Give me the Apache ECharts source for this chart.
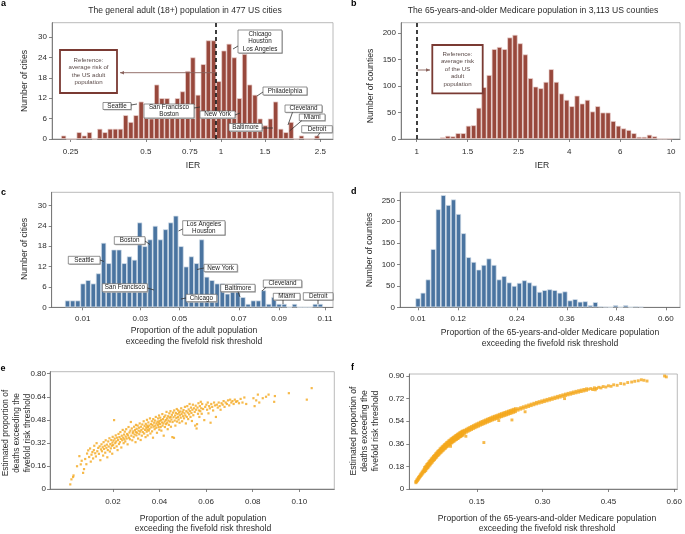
<!DOCTYPE html>
<html><head><meta charset="utf-8">
<script src="https://cdn.jsdelivr.net/npm/echarts@6/dist/echarts.min.js"></script>
<style>html,body{margin:0;padding:0;background:#fff}#c{width:685px;height:534px}</style>
</head><body><div id="c"></div>
<script>
// ---------------- DATA ----------------
// Panel a: IER histogram, 477 US cities (log-spaced bins)
const aCounts = [1,0,0,2,1,2,0,3,2,3, 3,3,7,5,7,11,9,6,16,12, 12,10,12,14,20,24,13,22,29,29, 17,26,28,24,12,25,16,13,6,4, 6,11,3,2,5,0,1,0,0,1];
const aBinStartLog10 = -0.630, aBinWidthLog10 = 0.0207;
const aTickValues = [0.25,0.5,0.75,1,1.5,2.5];
const aTickLabels = ['0.25','0.5','0.75','1','1.5','2.5'];
const aReferenceIER = 0.965;
const aYTicks = [0,6,12,18,24,30];

// Panel b: IER histogram, 3,113 US counties (log-spaced bins)
const bCounts = [3,6,5,11,11,25,26,59,98,121, 170,174,170,192,197,181,160,115,99,96, 108,132,108,86,74,62,82,67,74,52, 62,50,50,34,25,20,17,11,4,4, 8,5,0,0,1];
const bBinStartLog10 = 0.1018, bBinWidthLog10 = 0.02033;
const bTickLog10 = [0,0.2,0.4,0.6,0.8,1.0];
const bTickLabels = ['1','1.5','2.5','4','6','10'];
const bReferenceIER = 1;
const bYTicks = [0,50,100,150,200];

// Panel c: proportion exceeding fivefold threshold, cities (bin index axis)
const cCounts = [2,2,2,7,8,7,10,19,13,17, 17,13,15,14,25,18,20,24,20,23, 25,27,18,12,15,13,20,9,8,7, 7,4,5,7,3,1,2,2,5,1, 3,1,1,0,1,0,0,0,1,1];
const cTickBins = [2.95,14.1,21.7,33.2,41.0,49.9];
const cTickLabels = ['0.01','0.03','0.05','0.07','0.09','0.11'];
const cYTicks = [0,6,12,18,24,30];

// Panel d: proportion exceeding fivefold threshold, counties (bin index axis)
const dCounts = [21,34,65,136,229,262,239,252,218,173, 117,106,88,99,114,99,65,73,58,50, 57,63,58,51,36,40,42,40,34,37, 16,19,13,14,5,12,2,1,0,5, 0,5,0,2,1];
const dTickBins = [0,7.95,19.5,29.4,39.2,48.9];
const dTickLabels = ['0.01','0.12','0.24','0.36','0.48','0.60'];
const dYTicks = [0,50,100,150,200,250];

// Panel e: cities scatter [proportion of adults, proportion of deaths]
const ePoints = [
[0.0017,0.032],[0.0022,0.067],[0.0029,0.083],[0.0031,0.094],[0.0046,0.158],
[0.0056,0.228],[0.0062,0.171],[0.0066,0.196],[0.0072,0.112],[0.0076,0.138],[0.0081,0.208],[0.0086,0.172],[0.0089,0.246],[0.0094,0.268],[0.0098,0.222],
[0.0102,0.281],[0.0105,0.19],[0.0108,0.238],[0.0112,0.256],[0.0115,0.212],[0.0118,0.27],[0.012,0.3],[0.0124,0.248],[0.0127,0.226],[0.013,0.318],[0.0133,0.262],[0.0137,0.285],[0.014,0.244],[0.0143,0.296],[0.0146,0.2],[0.0149,0.275],
[0.0151,0.31],[0.0153,0.262],[0.0156,0.29],[0.0158,0.232],[0.016,0.325],[0.0162,0.278],[0.0165,0.3],[0.0167,0.252],[0.0169,0.338],[0.0172,0.286],[0.0174,0.308],[0.0176,0.22],[0.0178,0.27],[0.018,0.33],[0.0182,0.295],[0.0185,0.352],[0.0187,0.26],[0.0189,0.312],[0.0191,0.282],[0.0193,0.34],[0.0195,0.3],[0.0197,0.245],[0.0198,0.322],[0.0199,0.362],
[0.0201,0.305],[0.0203,0.336],[0.0205,0.478],[0.0206,0.285],[0.0208,0.35],[0.021,0.318],[0.0212,0.372],[0.0214,0.33],[0.0216,0.296],[0.0218,0.356],[0.022,0.27],[0.0222,0.34],[0.0224,0.382],[0.0226,0.312],[0.0228,0.36],[0.023,0.325],[0.0232,0.395],[0.0234,0.348],[0.0236,0.288],[0.0238,0.37],[0.024,0.338],[0.0242,0.41],[0.0244,0.356],[0.0246,0.318],[0.0248,0.378],[0.0249,0.345],
[0.0251,0.398],[0.0253,0.33],[0.0255,0.364],[0.0257,0.415],[0.0259,0.35],[0.0261,0.382],[0.0263,0.31],[0.0265,0.372],[0.0267,0.43],[0.0269,0.356],[0.0271,0.392],[0.0273,0.345],[0.0275,0.405],[0.0277,0.465],[0.0279,0.37],[0.0281,0.42],[0.0283,0.338],[0.0285,0.388],[0.0287,0.4],[0.0289,0.36],[0.0291,0.432],[0.0293,0.378],[0.0295,0.41],[0.0297,0.325],[0.0298,0.395],[0.0299,0.445],
[0.0301,0.372],[0.0302,0.418],[0.0304,0.39],[0.0306,0.44],[0.0308,0.35],[0.031,0.405],[0.0312,0.425],[0.0313,0.38],[0.0315,0.455],[0.0317,0.398],[0.0319,0.34],[0.032,0.432],[0.0322,0.41],[0.0324,0.37],[0.0326,0.448],[0.0328,0.395],[0.033,0.42],[0.0332,0.47],[0.0334,0.385],[0.0336,0.438],[0.0338,0.41],[0.034,0.36],[0.0341,0.452],[0.0343,0.425],[0.0345,0.398],[0.0346,0.48],[0.0347,0.44],[0.0348,0.412],[0.0349,0.372],[0.035,0.43],
[0.0352,0.462],[0.0354,0.405],[0.0356,0.44],[0.0357,0.418],[0.0359,0.49],[0.0361,0.385],[0.0363,0.45],[0.0365,0.428],[0.0367,0.47],[0.0368,0.4],[0.037,0.445],[0.0372,0.356],[0.0373,0.485],[0.0375,0.432],[0.0377,0.46],[0.0379,0.415],[0.038,0.475],[0.0382,0.44],[0.0384,0.5],[0.0386,0.425],[0.0387,0.455],[0.0389,0.39],[0.0391,0.468],[0.0393,0.445],[0.0394,0.49],[0.0396,0.43],[0.0397,0.46],[0.0398,0.51],[0.0399,0.412],[0.04,0.472],
[0.0402,0.45],[0.0403,0.495],[0.0405,0.43],[0.0407,0.478],[0.0408,0.405],[0.041,0.462],[0.0412,0.52],[0.0413,0.44],[0.0415,0.485],[0.0417,0.455],[0.0418,0.37],[0.042,0.5],[0.0422,0.468],[0.0423,0.43],[0.0425,0.51],[0.0427,0.478],[0.0428,0.45],[0.043,0.535],[0.0432,0.49],[0.0433,0.46],[0.0435,0.415],[0.0437,0.505],[0.0438,0.475],[0.044,0.445],[0.0442,0.525],[0.0443,0.495],[0.0445,0.468],[0.0447,0.54],[0.0448,0.5],[0.0449,0.432],
[0.0451,0.482],[0.0453,0.515],[0.0455,0.36],[0.0456,0.465],[0.0458,0.53],[0.046,0.498],[0.0462,0.355],[0.0463,0.545],[0.0465,0.475],[0.0467,0.51],[0.0468,0.44],[0.047,0.528],[0.0472,0.492],[0.0474,0.555],[0.0475,0.468],[0.0477,0.52],[0.0479,0.5],[0.048,0.545],[0.0482,0.482],[0.0484,0.53],[0.0486,0.46],[0.0487,0.512],[0.0489,0.538],[0.0491,0.495],[0.0493,0.56],[0.0495,0.52],[0.0497,0.47],[0.0499,0.535],
[0.0501,0.505],[0.0503,0.548],[0.0505,0.49],[0.0507,0.525],[0.0509,0.57],[0.0511,0.51],[0.0513,0.455],[0.0515,0.54],[0.0517,0.5],[0.0519,0.575],[0.0521,0.53],[0.0523,0.485],[0.0525,0.552],[0.0527,0.518],[0.0529,0.59],[0.0531,0.54],[0.0533,0.5],[0.0535,0.565],[0.0537,0.528],[0.0539,0.472],[0.0541,0.55],[0.0543,0.585],[0.0545,0.512],[0.0548,0.56],
[0.0551,0.535],[0.0553,0.44],[0.0555,0.578],[0.0557,0.55],[0.0559,0.42],[0.0561,0.45],[0.0563,0.565],[0.0565,0.522],[0.0567,0.595],[0.0569,0.545],[0.0571,0.5],[0.0573,0.575],[0.0575,0.54],[0.0577,0.605],[0.0579,0.56],[0.0581,0.522],[0.0583,0.59],[0.0587,0.555],[0.0592,0.478],[0.0596,0.57],
[0.0601,0.585],[0.0604,0.55],[0.0607,0.6],[0.061,0.525],[0.0613,0.575],[0.0616,0.56],[0.0619,0.46],[0.0622,0.59],[0.0626,0.57],[0.063,0.545],[0.0634,0.6],[0.0638,0.58],[0.0642,0.5],[0.0646,0.585],[0.065,0.565],
[0.0654,0.6],[0.0658,0.575],[0.0662,0.55],[0.0666,0.595],[0.0671,0.585],[0.0675,0.61],[0.0679,0.57],[0.0684,0.6],[0.0689,0.59],[0.0694,0.615],[0.0699,0.58],
[0.0703,0.62],[0.0708,0.6],[0.0713,0.61],[0.0718,0.59],[0.0723,0.62],[0.0728,0.605],[0.0734,0.61],[0.0741,0.595],[0.0748,0.625],[0.0756,0.6],[0.0764,0.635],[0.0772,0.59],
[0.0803,0.63],[0.0808,0.575],[0.0815,0.615],[0.0822,0.655],[0.0828,0.6],[0.0843,0.63],[0.0857,0.64],[0.0868,0.655],[0.0892,0.605],
[0.0895,0.645],[0.0955,0.665],[0.1032,0.62],[0.1053,0.7]
];
const eXTicks = [0.02,0.04,0.06,0.08,0.10];
const eXTickLabels = ['0.02','0.04','0.06','0.08','0.10'];
const eYTicks = [0,0.16,0.32,0.48,0.64,0.80];
const eYTickLabels = ['0','0.16','0.32','0.48','0.64','0.80'];

// Panel f: counties scatter [proportion of 65+ population, proportion of deaths]
const fPoints = [
[0.011,0.06],[0.011,0.05],[0.013,0.072],[0.013,0.058],[0.015,0.081],[0.015,0.068],[0.017,0.093],[0.017,0.078],[0.019,0.101],[0.019,0.088],
[0.021,0.113],[0.021,0.098],[0.023,0.122],[0.023,0.107],[0.025,0.134],[0.025,0.117],[0.027,0.143],[0.027,0.126],[0.029,0.153],[0.029,0.137],
[0.031,0.172],[0.031,0.16],[0.031,0.149],[0.031,0.138],[0.0335,0.181],[0.0335,0.171],[0.0335,0.16],[0.0335,0.147],
[0.036,0.195],[0.036,0.183],[0.036,0.172],[0.036,0.161],[0.0385,0.204],[0.0385,0.194],[0.0385,0.181],[0.0385,0.17],
[0.041,0.217],[0.041,0.205],[0.041,0.194],[0.041,0.183],[0.0435,0.226],[0.0435,0.216],[0.0435,0.203],[0.0435,0.192],
[0.046,0.239],[0.046,0.227],[0.046,0.216],[0.046,0.205],[0.0485,0.248],[0.0485,0.238],[0.0485,0.225],[0.0485,0.214],
[0.051,0.26],[0.051,0.248],[0.051,0.237],[0.051,0.226],[0.0535,0.268],[0.0535,0.258],[0.0535,0.245],[0.0535,0.234],
[0.056,0.28],[0.056,0.268],[0.056,0.257],[0.056,0.246],[0.0585,0.288],[0.0585,0.278],[0.0585,0.265],[0.0585,0.254],
[0.061,0.3],[0.061,0.288],[0.061,0.277],[0.061,0.266],[0.0635,0.307],[0.0635,0.297],[0.0635,0.284],[0.0635,0.273],
[0.066,0.319],[0.066,0.307],[0.066,0.296],[0.066,0.285],[0.0685,0.326],[0.0685,0.316],[0.0685,0.303],[0.0685,0.292],
[0.071,0.336],[0.071,0.324],[0.071,0.313],[0.071,0.302],[0.0735,0.343],[0.0735,0.333],[0.0735,0.32],[0.0735,0.309],
[0.076,0.353],[0.076,0.341],[0.076,0.33],[0.076,0.319],[0.0785,0.359],[0.0785,0.349],[0.0785,0.336],[0.0785,0.325],
[0.081,0.369],[0.081,0.357],[0.081,0.346],[0.081,0.335],[0.0835,0.374],[0.0835,0.364],[0.0835,0.351],[0.0835,0.34],
[0.086,0.384],[0.086,0.372],[0.086,0.361],[0.086,0.35],[0.0885,0.389],[0.0885,0.379],[0.0885,0.366],[0.0885,0.355],
[0.091,0.398],[0.091,0.386],[0.091,0.375],[0.091,0.364],[0.0935,0.403],[0.0935,0.393],[0.0935,0.38],[0.0935,0.369],
[0.096,0.411],[0.096,0.399],[0.096,0.388],[0.096,0.377],[0.0985,0.416],[0.0985,0.406],[0.0985,0.393],[0.0985,0.382],
[0.101,0.424],[0.101,0.412],[0.101,0.401],[0.101,0.39],[0.1035,0.428],[0.1035,0.418],[0.1035,0.405],[0.1035,0.394],
[0.106,0.436],[0.106,0.424],[0.106,0.413],[0.106,0.402],[0.1085,0.44],[0.1085,0.43],[0.1085,0.417],[0.1085,0.406],
[0.111,0.448],[0.111,0.436],[0.111,0.425],[0.111,0.414],[0.1135,0.452],[0.1135,0.442],[0.1135,0.429],[0.1135,0.418],
[0.116,0.459],[0.116,0.447],[0.116,0.436],[0.116,0.425],[0.1185,0.463],[0.1185,0.453],[0.1185,0.44],[0.1185,0.429],
[0.122,0.468],[0.122,0.456],[0.122,0.444],[0.126,0.476],[0.126,0.464],[0.126,0.452],[0.13,0.484],[0.13,0.472],[0.13,0.46],
[0.134,0.491],[0.134,0.479],[0.134,0.467],[0.138,0.498],[0.138,0.486],[0.138,0.474],[0.142,0.505],[0.142,0.493],[0.142,0.481],
[0.146,0.512],[0.146,0.5],[0.146,0.488],[0.15,0.519],[0.15,0.507],[0.15,0.495],[0.154,0.525],[0.154,0.513],[0.154,0.501],
[0.158,0.532],[0.158,0.52],[0.158,0.508],[0.162,0.538],[0.162,0.526],[0.162,0.514],[0.166,0.544],[0.166,0.532],[0.166,0.52],
[0.17,0.55],[0.17,0.538],[0.17,0.526],[0.174,0.556],[0.174,0.544],[0.174,0.532],[0.178,0.562],[0.178,0.55],[0.178,0.538],
[0.182,0.568],[0.182,0.556],[0.182,0.544],[0.186,0.574],[0.186,0.562],[0.186,0.55],[0.19,0.579],[0.19,0.567],[0.19,0.555],
[0.194,0.584],[0.194,0.572],[0.194,0.56],[0.198,0.589],[0.198,0.577],[0.198,0.565],[0.202,0.595],[0.202,0.583],[0.202,0.571],
[0.206,0.6],[0.206,0.588],[0.206,0.576],[0.21,0.605],[0.21,0.593],[0.21,0.581],[0.214,0.61],[0.214,0.598],[0.214,0.586],
[0.218,0.615],[0.218,0.603],[0.218,0.591],[0.222,0.62],[0.222,0.608],[0.222,0.596],[0.226,0.625],[0.226,0.613],[0.226,0.601],
[0.23,0.63],[0.23,0.618],[0.23,0.606],[0.234,0.635],[0.234,0.623],[0.234,0.611],[0.238,0.64],[0.238,0.628],[0.238,0.616],
[0.244,0.64],[0.244,0.628],[0.25,0.648],[0.25,0.636],[0.256,0.655],[0.256,0.643],[0.262,0.662],[0.262,0.65],[0.268,0.669],[0.268,0.657],
[0.274,0.676],[0.274,0.664],[0.28,0.683],[0.28,0.671],[0.286,0.69],[0.286,0.678],[0.292,0.696],[0.292,0.684],[0.298,0.702],[0.298,0.69],
[0.304,0.708],[0.304,0.696],[0.31,0.714],[0.31,0.702],[0.316,0.72],[0.316,0.708],[0.322,0.726],[0.322,0.714],[0.328,0.732],[0.328,0.72],
[0.334,0.738],[0.334,0.726],[0.34,0.744],[0.34,0.732],[0.346,0.75],[0.346,0.738],[0.352,0.756],[0.352,0.744],[0.358,0.762],[0.358,0.75],
[0.364,0.767],[0.364,0.755],[0.37,0.773],[0.37,0.761],[0.376,0.778],[0.376,0.766],[0.382,0.783],[0.382,0.771],[0.388,0.788],[0.388,0.776],
[0.394,0.793],[0.394,0.781],[0.40,0.798],[0.40,0.786],
[0.405,0.795],[0.41,0.8],[0.414,0.792],[0.418,0.806],[0.423,0.801],[0.428,0.81],[0.433,0.805],[0.438,0.816],[0.444,0.812],[0.45,0.822],
[0.456,0.818],[0.462,0.83],[0.47,0.826],[0.478,0.84],[0.486,0.836],[0.494,0.848],[0.503,0.852],[0.51,0.858],[0.518,0.862],[0.525,0.87],
[0.531,0.866],[0.538,0.86],[0.578,0.9],[0.582,0.893],
[0.166,0.37],[0.125,0.42],[0.09,0.34],[0.2,0.545],[0.23,0.55],[0.26,0.615],[0.35,0.72],[0.42,0.79]
];
const fXTicks = [0.15,0.30,0.45,0.60];
const fXTickLabels = ['0.15','0.30','0.45','0.60'];
const fYTicks = [0,0.18,0.36,0.54,0.72,0.90];
const fYTickLabels = ['0','0.18','0.36','0.54','0.72','0.90'];

// ---------------- CHART ----------------
const FONT = '"Liberation Sans", Arial, Helvetica, sans-serif';
const TXT = '#2b2b2b';
const AXC = '#666';
const BROWN = '#98483c', BLUE = '#4a74a0', ORANGE = '#f4a81d';

function lab(vals, labels) {
  return function (v) {
    for (let i = 0; i < vals.length; i++) if (Math.abs(vals[i] - v) < 1e-6) return labels[i];
    return '';
  };
}
function axis(gi, min, max, vals, labels, margin) {
  return {
    type: 'value', gridIndex: gi, min: min, max: max,
    axisLine: { show: true, onZero: false, lineStyle: { color: AXC, width: 0.8 } },
    axisTick: { show: true, length: 3, customValues: vals, lineStyle: { color: AXC, width: 0.8 } },
    axisLabel: { customValues: vals, formatter: lab(vals, labels), fontSize: 8, color: TXT, fontFamily: FONT, margin: margin, hideOverlap: false },
    splitLine: { show: false }
  };
}
function grid(l, t, w, h) {
  return { left: l, top: t, width: w, height: h, show: true, borderColor: '#a8a8a8', borderWidth: 0.8, backgroundColor: 'transparent' };
}
const L10 = v => Math.log10(v);
const aTickLog = aTickValues.map(L10);
const numLabels = a => a.map(String);

const dashed = (x) => ({
  silent: true, symbol: 'none', label: { show: false },
  lineStyle: { color: '#111', type: [4, 3], width: 1.6 },
  data: [{ xAxis: x }]
});

const option = {
  animation: false,
  backgroundColor: '#fff',
  grid: [
    grid(52, 22.7, 281, 116.3),
    grid(401, 22.7, 279, 116.3),
    grid(51.7, 192.3, 281.3, 115),
    grid(400, 192.3, 280, 115),
    grid(50, 371.7, 284.3, 117.3),
    grid(409.3, 374, 270.7, 115)
  ],
  xAxis: [
    axis(0, -0.6766, 0.4484, aTickLog, aTickLabels, 9),
    axis(1, -0.0617, 1.035, bTickLog10, bTickLabels, 9),
    axis(2, -3.06, 51.45, cTickBins, cTickLabels, 7),
    axis(3, -3.55, 51.7, dTickBins, dTickLabels, 7),
    axis(4, -0.007, 0.115, eXTicks, eXTickLabels, 9),
    axis(5, -0.004, 0.607, fXTicks, fXTickLabels, 9)
  ],
  yAxis: [
    axis(0, 0, 34.2, aYTicks, numLabels(aYTicks), 5),
    axis(1, 0, 220, bYTicks, numLabels(bYTicks), 5),
    axis(2, 0, 33.9, cYTicks, numLabels(cYTicks), 5),
    axis(3, 0, 268.7, dYTicks, numLabels(dYTicks), 5),
    axis(4, 0, 0.814, eYTicks, eYTickLabels, 4),
    axis(5, 0, 0.916, fYTicks, fYTickLabels, 5)
  ],
  series: [
    { type: 'bar', xAxisIndex: 0, yAxisIndex: 0, barWidth: 5.17,
      itemStyle: { color: BROWN, borderColor: '#ecd6d2', borderWidth: 0.7 },
      data: aCounts.map((c, i) => [aBinStartLog10 + i * aBinWidthLog10, c]),
      markLine: dashed(L10(aReferenceIER)) },
    { type: 'bar', xAxisIndex: 1, yAxisIndex: 1, barWidth: 5.17,
      itemStyle: { color: BROWN, borderColor: '#ecd6d2', borderWidth: 0.7 },
      data: bCounts.map((c, i) => [bBinStartLog10 + i * bBinWidthLog10, c]),
      markLine: dashed(L10(bReferenceIER)) },
    { type: 'bar', xAxisIndex: 2, yAxisIndex: 2, barWidth: 5.16,
      itemStyle: { color: BLUE, borderColor: '#d8e2ec', borderWidth: 0.7 },
      data: cCounts.map((c, i) => [i, c]) },
    { type: 'bar', xAxisIndex: 3, yAxisIndex: 3, barWidth: 5.07,
      itemStyle: { color: BLUE, borderColor: '#d8e2ec', borderWidth: 0.7 },
      data: dCounts.map((c, i) => [i, c]) },
    { type: 'scatter', xAxisIndex: 4, yAxisIndex: 4, symbol: 'rect', symbolSize: 2.2,
      itemStyle: { color: ORANGE }, data: ePoints },
    { type: 'scatter', xAxisIndex: 5, yAxisIndex: 5, symbol: 'rect', symbolSize: 2.9,
      itemStyle: { color: ORANGE }, data: fPoints }
  ]
};

// ---------- annotations (layout) ----------
const G = [];
function text(x, y, t, size, opts) {
  opts = opts || {};
  G.push({ type: 'text', x: x, y: y, rotation: opts.rot || 0, z: 100,
    style: { text: t, fill: opts.fill || TXT, font: (opts.bold ? 'bold ' : '') + size + 'px ' + FONT,
      textAlign: opts.align || 'center', textVerticalAlign: 'middle' } });
}
function callout(x1, y1, x2, y2, lines, p) {
  G.push({ type: 'rect', z: 98, shape: { x: x1 + 1, y: y1 + 1, width: x2 - x1, height: y2 - y1 }, style: { fill: '#bdbdbd' } });
  G.push({ type: 'rect', z: 99, shape: { x: x1, y: y1, width: x2 - x1, height: y2 - y1 }, style: { fill: '#fff', stroke: '#666', lineWidth: 0.7 } });
  const lh = (y2 - y1) / lines.length;
  lines.forEach((l, i) => text((x1 + x2) / 2, y1 + lh * (i + 0.5), l, 6.3, { fill: '#222' }));
  if (p) G.push({ type: 'polyline', z: 100, shape: { points: p }, style: { stroke: '#333', lineWidth: 0.8, fill: null } });
}
function refBox(x1, y1, x2, y2, lines) {
  G.push({ type: 'rect', z: 99, shape: { x: x1, y: y1, width: x2 - x1, height: y2 - y1 }, style: { fill: '#fff', stroke: '#7a3a33', lineWidth: 1.8 } });
  const lh = 7.4, y0 = (y1 + y2) / 2 - lh * (lines.length - 1) / 2;
  lines.forEach((l, i) => text((x1 + x2) / 2, y0 + i * lh, l, 6.1, { fill: '#5b4b49' }));
}
function arrow(x1, y, x2) {
  G.push({ type: 'line', z: 100, shape: { x1: x1, y1: y, x2: x2, y2: y }, style: { stroke: '#8a625c', lineWidth: 0.9 } });
  const d = x2 < x1 ? 1 : -1;
  G.push({ type: 'polygon', z: 100, shape: { points: [[x2, y], [x2 + 4 * d, y - 1.8], [x2 + 4 * d, y + 1.8]] }, style: { fill: '#8a625c' } });
}

// panel letters and titles
text(1, 4, 'a', 9, { bold: true, align: 'left', fill: '#000' });
text(351, 4, 'b', 9, { bold: true, align: 'left', fill: '#000' });
text(1, 192.5, 'c', 9, { bold: true, align: 'left', fill: '#000' });
text(351, 192, 'd', 9, { bold: true, align: 'left', fill: '#000' });
text(0.5, 368.5, 'e', 9, { bold: true, align: 'left', fill: '#000' });
text(351, 368, 'f', 9, { bold: true, align: 'left', fill: '#000' });
text(185, 11, 'The general adult (18+) population in 477 US cities', 8.6);
text(533, 11, 'The 65-years-and-older Medicare population in 3,113 US counties', 8.6);

// axis names
const R = Math.PI / 2;
text(25, 81, 'Number of cities', 8.6, { rot: R });
text(371, 86, 'Number of counties', 8.6, { rot: R });
text(193, 165.5, 'IER', 8.6);
text(542, 165.5, 'IER', 8.6);
text(25, 249, 'Number of cities', 8.6, { rot: R });
text(370, 250, 'Number of counties', 8.6, { rot: R });
text(194, 331, 'Proportion of the adult population', 8.6);
text(194, 342, 'exceeding the fivefold risk threshold', 8.6);
text(550, 332.5, 'Proportion of the 65-years-and-older Medicare population', 8.6);
text(550, 343.5, 'exceeding the fivefold risk threshold', 8.6);
text(6, 433, 'Estimated proportion of', 8.4, { rot: R });
text(17, 433, 'deaths exceeding the', 8.4, { rot: R });
text(27.8, 433, 'fivefold risk threshold', 8.4, { rot: R });
text(353.5, 431, 'Estimated proportion of', 8.6, { rot: R });
text(364.5, 431, 'deaths exceeding the', 8.6, { rot: R });
text(375.5, 431, 'fivefold risk threshold', 8.6, { rot: R });
text(203, 518.5, 'Proportion of the adult population', 8.6);
text(203, 528.5, 'exceeding the fivefold risk threshold', 8.6);
text(547, 518.5, 'Proportion of the 65-years-and-older Medicare population', 8.6);
text(547, 528.5, 'exceeding the fivefold risk threshold', 8.6);

// panel a annotations
refBox(60, 50, 117, 93, ['Reference:', 'average risk of', 'the US adult', 'population']);
arrow(217, 72.7, 120);
callout(238, 30, 282, 53, ['Chicago', 'Houston', 'Los Angeles'], [[238, 46], [233, 49]]);
callout(263, 87, 307, 95, ['Philadelphia'], [[263, 92], [257, 96]]);
callout(103, 102.5, 131, 109.5, ['Seattle'], [[131, 105], [137, 104]]);
callout(144, 104, 194, 118, ['San Francisco', 'Boston'], [[194, 108], [200, 107]]);
callout(200, 111, 235, 118, ['New York'], [[235, 115], [240, 113]]);
callout(229, 123.5, 262, 131, ['Baltimore'], [[262, 128], [273, 128]]);
callout(285, 105, 322, 112.3, ['Cleveland'], [[292.5, 112.3], [288, 125]]);
callout(299.3, 114, 325, 120.7, ['Miami'], [[301.7, 120.7], [289.5, 131]]);
callout(301.7, 125.7, 332.3, 132.7, ['Detroit'], [[320, 132.7], [317.3, 136.5]]);

// panel b annotations
refBox(432.3, 45, 482.7, 93.3, ['Reference:', 'average risk', 'of the US', 'adult', 'population']);
arrow(417.5, 70, 430);

// panel c annotations
callout(182.7, 220.7, 225, 235, ['Los Angeles', 'Houston'], [[182.7, 229], [178.5, 231]]);
callout(114.3, 236.7, 145, 244.3, ['Boston'], [[145, 241], [150, 244.5]]);
callout(68.3, 256.3, 100, 264, ['Seattle'], [[100, 260], [104, 261.5]]);
callout(204, 264.3, 237.3, 271.7, ['New York'], [[204, 268], [197, 269.5]]);
callout(102.3, 283.7, 147.3, 291.7, ['San Francisco'], [[147.3, 288], [154, 290]]);
callout(186, 294.3, 216.7, 301.7, ['Chicago'], [[186, 298], [181, 299]]);
callout(220.7, 284.3, 255, 291.7, ['Baltimore'], [[238, 291.7], [240, 297]]);
callout(263.3, 280, 301.7, 287.3, ['Cleveland'], [[266, 287.3], [262, 291]]);
callout(273.3, 293.3, 300, 300, ['Miami'], [[283, 300], [283, 304]]);
callout(303.3, 292.7, 333, 300, ['Detroit'], [[318, 300], [318, 304]]);

option.graphic = { elements: G };

const chart = echarts.init(document.getElementById('c'), null, { renderer: 'canvas', width: 685, height: 534 });
chart.setOption(option);
</script>
</body></html>
